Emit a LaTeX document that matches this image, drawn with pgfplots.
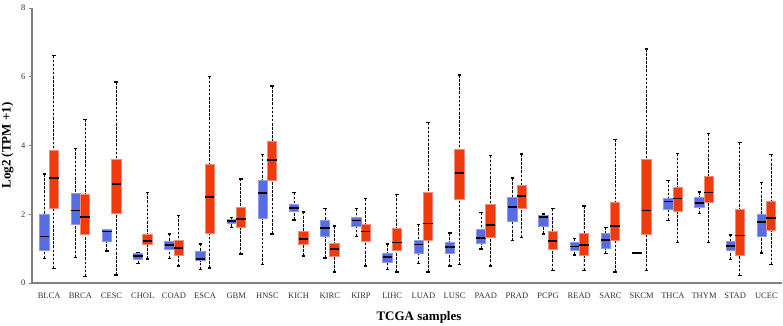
\documentclass[border=0pt]{standalone}
\usepackage{fontspec}
\setmainfont{Liberation Serif}
\usepackage{pgfplots}
\pgfplotsset{compat=1.18}
\usepgfplotslibrary{statistics}

\definecolor{nfill}{HTML}{586CE2}
\definecolor{nedge}{HTML}{8A9AF0}
\definecolor{tfill}{HTML}{EF3A0C}
\definecolor{tedge}{HTML}{F58A78}
\definecolor{axisgray}{HTML}{808080}
\definecolor{labelgray}{HTML}{333333}

% dashed whiskers with solid end caps
\pgfplotsset{
  boxplot/draw/lower whisker/.code={%
    \draw[black, line width=0.9pt, dash pattern=on 2.6pt off 1.5pt]
      (boxplot box cs:\pgfplotsboxplotvalue{lower whisker},0.5) --
      (boxplot box cs:\pgfplotsboxplotvalue{lower quartile},0.5);
    \draw[black, line width=1.4pt]
      (boxplot whisker cs:\pgfplotsboxplotvalue{lower whisker},0) --
      (boxplot whisker cs:\pgfplotsboxplotvalue{lower whisker},1);
  },
  boxplot/draw/upper whisker/.code={%
    \draw[black, line width=0.9pt, dash pattern=on 2.6pt off 1.5pt]
      (boxplot box cs:\pgfplotsboxplotvalue{upper whisker},0.5) --
      (boxplot box cs:\pgfplotsboxplotvalue{upper quartile},0.5);
    \draw[black, line width=1.4pt]
      (boxplot whisker cs:\pgfplotsboxplotvalue{upper whisker},0) --
      (boxplot whisker cs:\pgfplotsboxplotvalue{upper whisker},1);
  },
  normalbox/.style={draw=nedge, fill=nfill, line width=0.7pt},
  tumorbox/.style={draw=tedge, fill=tfill, line width=0.7pt},
}

% #1 category index, #2 lower whisker, #3 lower quartile, #4 median,
% #5 upper quartile, #6 upper whisker
\newcommand\nbox[6]{\addplot[normalbox, boxplot prepared={draw direction=y, draw position={#1-0.15},
  lower whisker=#2, lower quartile=#3, median=#4, upper quartile=#5, upper whisker=#6}] coordinates {};}
\newcommand\tbox[6]{\addplot[tumorbox, boxplot prepared={draw direction=y, draw position={#1+0.15},
  lower whisker=#2, lower quartile=#3, median=#4, upper quartile=#5, upper whisker=#6}] coordinates {};}

\begin{document}
\begin{tikzpicture}
\begin{axis}[
  at={(32pt,43pt)}, anchor=south west,
  scale only axis, width=750pt, height=275pt,
  xmin=-0.55, xmax=23.5, ymin=0, ymax=8,
  axis x line=bottom, axis y line=left,
  axis line style={-, axisgray, line width=1.1pt},
  xtick={0,...,23},
  xticklabels={BLCA,BRCA,CESC,CHOL,COAD,ESCA,GBM,HNSC,KICH,KIRC,KIRP,LIHC,LUAD,LUSC,PAAD,PRAD,PCPG,READ,SARC,SKCM,THCA,THYM,STAD,UCEC},
  major x tick style={draw=none},
  ytick={0,2,4,6,8},
  major y tick style={axisgray, line width=0.8pt},
  tick align=outside, major tick length=3pt,
  /pgf/number format/assume math mode=true,
  ticklabel style={font=\fontsize{8.5}{10}\selectfont, text=labelgray},
  xticklabel style={yshift=-3pt},
  xlabel={TCGA samples},
  ylabel={Log2 (TPM +1)},
  every axis x label/.style={at={(axis description cs:0.516,0)}, anchor=north, yshift=-25pt,
    font=\fontsize{13}{15}\selectfont\bfseries, text=black},
  every axis y label/.style={at={(-15pt,137.5pt)}, rotate=90, anchor=south,
    font=\fontsize{13}{15}\selectfont\bfseries, text=black},
  boxplot/box extend=0.3,
  boxplot/whisker extend=0.11,
  boxplot/every median/.style={black, line width=1.8pt},
  clip=false,
]
\nbox{0}{0.71}{0.95}{1.35}{2.00}{3.17}  \tbox{0}{0.42}{2.18}{3.05}{3.87}{6.62}
\nbox{1}{0.75}{1.70}{2.11}{2.61}{3.92}  \tbox{1}{0.19}{1.42}{1.92}{2.58}{4.76}
\nbox{2}{0.93}{1.22}{1.50}{1.55}{1.55}  \tbox{2}{0.23}{2.04}{2.87}{3.60}{5.85}
\nbox{3}{0.57}{0.69}{0.79}{0.86}{0.88}  \tbox{3}{0.70}{1.13}{1.23}{1.41}{2.64}
\nbox{4}{0.72}{0.99}{1.10}{1.21}{1.43}  \tbox{4}{0.49}{0.81}{1.02}{1.24}{1.97}
\nbox{5}{0.39}{0.65}{0.70}{0.91}{1.14}  \tbox{5}{0.44}{1.44}{2.51}{3.46}{6.01}
\nbox{6}{1.61}{1.73}{1.80}{1.85}{1.90}  \tbox{6}{0.84}{1.62}{1.87}{2.20}{3.03}
\nbox{7}{0.53}{1.87}{2.61}{2.98}{3.74}  \tbox{7}{1.43}{3.00}{3.58}{4.12}{5.73}
\nbox{8}{1.83}{2.08}{2.19}{2.30}{2.63}  \tbox{8}{0.79}{1.11}{1.28}{1.50}{2.07}
\nbox{9}{0.73}{1.35}{1.61}{1.83}{2.16}  \tbox{9}{0.32}{0.78}{0.98}{1.16}{1.66}
\nbox{10}{1.36}{1.65}{1.82}{1.91}{2.16} \tbox{10}{0.50}{1.21}{1.50}{1.72}{2.45}
\nbox{11}{0.39}{0.61}{0.76}{0.85}{1.13} \tbox{11}{0.32}{0.95}{1.18}{1.58}{2.58}
\nbox{12}{0.57}{0.86}{1.12}{1.23}{1.71} \tbox{12}{0.32}{1.24}{1.73}{2.63}{4.67}
\nbox{13}{0.49}{0.86}{1.04}{1.17}{1.45} \tbox{13}{0.53}{2.44}{3.20}{3.90}{6.05}
\nbox{14}{0.99}{1.14}{1.30}{1.56}{2.05} \tbox{14}{0.49}{1.34}{1.68}{2.30}{3.71}
\nbox{15}{1.23}{1.78}{2.21}{2.48}{3.05} \tbox{15}{1.33}{2.18}{2.53}{2.84}{3.75}
\nbox{16}{1.43}{1.66}{1.92}{1.96}{2.01} \tbox{16}{0.37}{0.99}{1.22}{1.49}{2.16}
\nbox{17}{0.82}{0.95}{1.06}{1.17}{1.30} \tbox{17}{0.37}{0.81}{1.10}{1.44}{2.24}
\nbox{18}{0.85}{1.01}{1.25}{1.44}{1.62} \tbox{18}{0.32}{1.24}{1.65}{2.36}{4.18}
\nbox{19}{0.88}{0.88}{0.88}{0.88}{0.88} \tbox{19}{0.37}{1.42}{2.11}{3.60}{6.81}
\nbox{20}{1.82}{2.15}{2.37}{2.46}{2.98} \tbox{20}{1.18}{2.09}{2.46}{2.79}{3.77}
\nbox{21}{2.02}{2.19}{2.33}{2.48}{2.65} \tbox{21}{1.18}{2.35}{2.63}{3.10}{4.35}
\nbox{22}{0.68}{0.95}{1.07}{1.21}{1.40} \tbox{22}{0.22}{0.81}{1.38}{2.15}{4.09}
\nbox{23}{0.87}{1.37}{1.78}{2.01}{2.92} \tbox{23}{0.54}{1.54}{1.90}{2.37}{3.73}
\end{axis}
\pgfresetboundingbox
\path (0,0) rectangle (783pt,326pt);
\end{tikzpicture}
\end{document}
